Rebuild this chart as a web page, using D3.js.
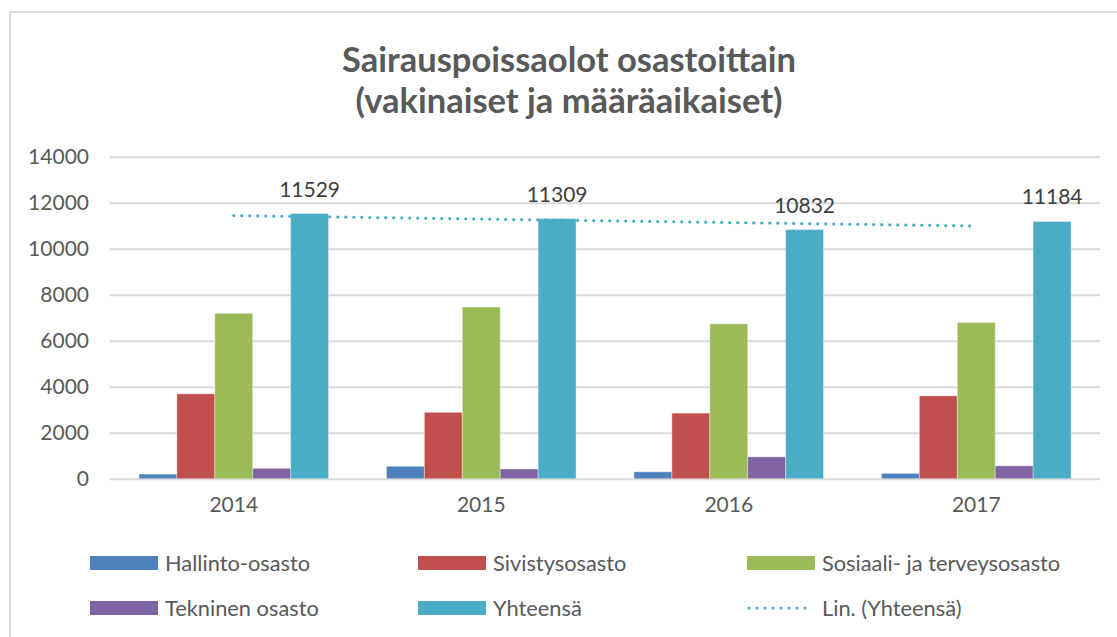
<!DOCTYPE html>
<html>
<head>
<meta charset="utf-8">
<script src="https://cdn.jsdelivr.net/npm/d3@7/dist/d3.min.js"></script>
<style>
  html, body { margin: 0; padding: 0; background: #fff; }
  svg { display: block; }
  text { font-family: Lato, "Open Sans", sans-serif; }
</style>
</head>
<body>
<svg id="chart" width="1117" height="637"></svg>
<script>
// ---- data ----
const years = ["2014", "2015", "2016", "2017"];
const seriesNames = ["Hallinto-osasto", "Sivistysosasto", "Sosiaali- ja terveysosasto", "Tekninen osasto", "Yhteensä"];
const hallinto = [200, 540, 300, 230];
const sivistys = [3690, 2885, 2850, 3600];
const sosiaali = [7190, 7464, 6730, 6790];
const tekninen = [450, 420, 950, 560];
const yhteensa = [11529, 11309, 10832, 11184];
const yTicks = [0, 2000, 4000, 6000, 8000, 10000, 12000, 14000];
const titleLines = ["Sairauspoissaolot osastoittain", "(vakinaiset ja määräaikaiset)"];
const trendLabel = "Lin. (Yhteensä)";

const seriesValues = [hallinto, sivistys, sosiaali, tekninen, yhteensa];
const colors = ["#4F81BD", "#C0504D", "#9BBB59", "#8064A2", "#4BACC6"];

const svg = d3.select("#chart");
const W = 1117, H = 637;

// frame
svg.append("line").attr("x1", 10).attr("x2", W).attr("y1", 12).attr("y2", 12)
  .attr("stroke", "#D9D9D9").attr("stroke-width", 2);
svg.append("line").attr("x1", 10).attr("x2", 10).attr("y1", 12).attr("y2", H)
  .attr("stroke", "#D9D9D9").attr("stroke-width", 2);

// title
const title = svg.append("text").attr("text-anchor", "middle")
  .attr("fill", "#595959").attr("font-weight", "bold").attr("font-size", 34.5);
title.selectAll("tspan").data(titleLines).join("tspan")
  .attr("x", 569).attr("y", (d, i) => 72 + i * 41).text(d => d);

// scales
const pLeft = 110, pRight = 1100, pTop = 156.7, pBottom = 478.7;
const x0 = d3.scaleBand().domain(years).range([pLeft, pRight])
  .paddingInner(0.234).paddingOuter(0.117);
const x1 = d3.scaleBand().domain(seriesNames).range([0, x0.bandwidth()]);
const y = d3.scaleLinear().domain([0, 14000]).range([pBottom, pTop]);

// gridlines
const grid = svg.append("g").attr("transform", `translate(${pLeft},0)`)
  .call(d3.axisLeft(y).tickValues(yTicks).tickSize(-(pRight - pLeft)).tickFormat(""));
grid.select(".domain").remove();
grid.selectAll(".tick line").attr("stroke", "#D9D9D9").attr("stroke-width", 2);

// y tick labels
const yAxis = svg.append("g").attr("transform", `translate(89,0)`)
  .call(d3.axisLeft(y).tickValues(yTicks).tickSize(0).tickPadding(0).tickFormat(d3.format("d")));
yAxis.select(".domain").remove();
yAxis.selectAll("text").attr("fill", "#595959").attr("font-size", 21)
  .style("font-family", "Lato, 'Open Sans', sans-serif");

// x axis labels
const xAxis = svg.append("g").attr("transform", `translate(0,${pBottom + 18})`)
  .call(d3.axisBottom(x0).tickSize(0).tickPadding(0));
xAxis.select(".domain").remove();
xAxis.selectAll("text").attr("fill", "#595959").attr("font-size", 21)
  .style("font-family", "Lato, 'Open Sans', sans-serif");

// bars
const groups = svg.append("g").selectAll("g").data(years).join("g")
  .attr("transform", d => `translate(${x0(d)},0)`);
groups.selectAll("rect")
  .data((yr, i) => seriesNames.map((s, k) => ({ s, k, v: seriesValues[k][i] })))
  .join("rect")
  .attr("x", d => x1(d.s))
  .attr("width", x1.bandwidth())
  .attr("y", d => y(d.v))
  .attr("height", d => y(0) - y(d.v))
  .attr("fill", d => colors[d.k])
  .attr("stroke", "#ffffff").attr("stroke-opacity", 0.35).attr("stroke-width", 1);

// data labels for Yhteensä
svg.append("g").selectAll("text").data(yhteensa).join("text")
  .attr("x", (d, i) => x0(years[i]) + x1("Yhteensä") + x1.bandwidth() / 2)
  .attr("y", d => y(d) - 17)
  .attr("text-anchor", "middle").attr("fill", "#404040").attr("font-size", 21)
  .text(d => d);

// linear trendline of Yhteensä (least squares)
const xs = years.map((d, i) => i + 1);
const mx = d3.mean(xs), my = d3.mean(yhteensa);
const slope = d3.sum(xs, (xv, i) => (xv - mx) * (yhteensa[i] - my)) / d3.sum(xs, xv => (xv - mx) ** 2);
const intercept = my - slope * mx;
const trendPts = [xs[0], xs[xs.length - 1]].map(xv => [xv, intercept + slope * xv]);
svg.append("path")
  .attr("d", d3.line()
    .x(p => x0(years[p[0] - 1]) + x0.bandwidth() / 2)
    .y(p => y(p[1]))(trendPts))
  .attr("fill", "none").attr("stroke", "#4BACC6").attr("stroke-width", 3.2)
  .attr("stroke-linecap", "round").attr("stroke-dasharray", "0 8");

// legend
const legendItems = seriesNames.map((s, k) => ({ name: s, color: colors[k], type: "rect" }))
  .concat([{ name: trendLabel, color: "#4BACC6", type: "line" }]);
const colX = [90, 418, 747];
const rowY = [563, 608];
const leg = svg.append("g").selectAll("g").data(legendItems).join("g")
  .attr("transform", (d, i) => `translate(${colX[i % 3]},${rowY[Math.floor(i / 3)]})`);
leg.filter(d => d.type === "rect").append("rect")
  .attr("x", 0).attr("y", -7).attr("width", 68).attr("height", 14).attr("fill", d => d.color);
leg.filter(d => d.type === "line").append("line")
  .attr("x1", 2).attr("x2", 66).attr("y1", 0).attr("y2", 0)
  .attr("stroke", d => d.color).attr("stroke-width", 3.2)
  .attr("stroke-linecap", "round").attr("stroke-dasharray", "0 8");
leg.append("text").attr("x", 75).attr("y", 0).attr("dy", "0.35em")
  .attr("fill", "#595959").attr("font-size", 21.8).text(d => d.name);
</script>
</body>
</html>
